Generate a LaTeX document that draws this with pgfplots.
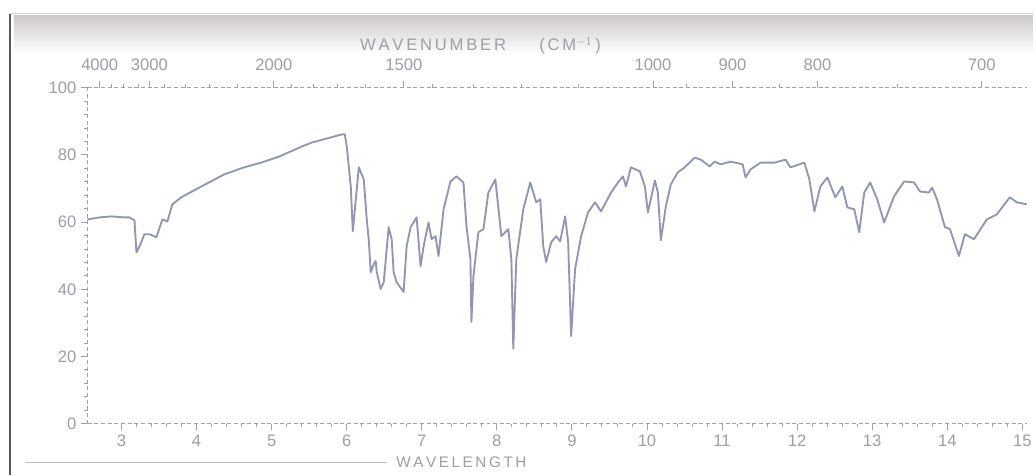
\documentclass[border=0pt]{standalone}
\usepackage{fontspec}
\setmainfont{Liberation Sans}
\usepackage{pgfplots}
\pgfplotsset{compat=1.18}
\definecolor{curve}{HTML}{9296B2}
\definecolor{txt}{HTML}{9E9EA4}
\definecolor{axl}{HTML}{A0A0A6}
\begin{document}
\begin{tikzpicture}
% page frame (px -> 0.75pt, y down from top)
\begin{scope}[x=0.75pt,y=-0.75pt,shift={(0,357pt)}]
\path[fill=white] (0,0) rectangle (1036,476);
\shade[top color=gray!45!purple!10!gray!40,bottom color=white] (14,16) rectangle (1036,54);
\draw[gray!35,line width=0.6pt] (10,13) -- (1036,13);
\draw[black!65,line width=2.2pt] (10,14) -- (10,476);
\draw[gray!50,line width=0.8pt] (25,464) -- (388,464);
\node[txt,font=\fontsize{12.5}{14}\selectfont,anchor=base] at (482,51) {W\,A\,V\,E\,N\,U\,M\,B\,E\,R\qquad(\,C\,M$^{-1}$\,)};
\node[txt,font=\fontsize{11.5}{13}\selectfont,anchor=base west] at (393,469) {W\,A\,V\,E\,L\,E\,N\,G\,T\,H};
\end{scope}
\begin{axis}[at={(66pt,38.25pt)},anchor=south west,scale only axis,
  width=706.5pt,height=252.75pt,
  xmin=2.55,xmax=15.06,ymin=0,ymax=100,
  axis x line*=bottom,axis y line*=left,
  axis line style={-,axl,line width=0.8pt,densely dashed},
  xtick={3,4,...,15},ytick={0,20,...,100},
  minor x tick num=4,minor y tick num=4,
  tick style={axl,line width=0.7pt},
  major tick length=5pt,minor tick length=2.5pt,
  tick align=outside,
  /pgf/number format/assume math mode=true,
  ticklabel style={txt,font=\fontsize{12.5}{14}\selectfont},
  clip=false]
\addplot[curve,line width=1.4pt,line join=round] coordinates {
(2.548,60.8)(2.708,61.4)(2.867,61.7)(3.040,61.4)(3.106,61.4)(3.173,60.5)
(3.199,51.0)(3.252,53.4)(3.305,56.4)(3.372,56.4)(3.465,55.5)(3.544,60.8)
(3.611,60.2)(3.677,65.3)(3.797,67.4)(4.062,70.6)(4.368,74.2)(4.633,76.3)
(4.859,77.7)(5.098,79.5)(5.404,82.5)(5.537,83.7)(5.935,86.1)(5.975,86.1)
(6.001,82.5)(6.054,70.6)(6.081,57.3)(6.121,66.8)(6.161,76.3)(6.227,72.7)
(6.267,60.8)(6.293,54.9)(6.320,45.1)(6.360,47.5)(6.386,48.4)(6.400,45.1)
(6.453,40.1)(6.493,42.1)(6.559,58.5)(6.599,54.9)(6.625,45.1)(6.665,42.1)
(6.758,39.2)(6.798,52.8)(6.851,58.5)(6.931,61.4)(6.984,46.9)(7.024,52.8)
(7.090,59.9)(7.130,54.9)(7.183,55.8)(7.223,49.9)(7.290,63.8)(7.382,72.1)
(7.462,73.6)(7.555,71.8)(7.595,58.8)(7.648,49.0)(7.661,30.3)(7.688,43.9)
(7.754,57.0)(7.821,57.9)(7.887,68.8)(7.980,72.7)(8.060,55.8)(8.153,57.9)
(8.193,49.0)(8.219,22.3)(8.259,49.0)(8.352,63.8)(8.445,71.8)(8.525,65.9)
(8.578,66.8)(8.618,52.8)(8.657,48.1)(8.724,54.0)(8.790,55.8)(8.843,54.3)
(8.910,61.7)(8.950,54.0)(8.989,26.1)(9.042,46.0)(9.122,55.8)(9.215,62.9)
(9.308,65.9)(9.388,63.2)(9.521,68.8)(9.614,71.8)(9.680,73.6)(9.720,70.6)
(9.786,76.3)(9.906,75.1)(9.972,70.6)(10.012,62.9)(10.105,72.4)(10.145,68.8)
(10.185,54.6)(10.251,64.7)(10.317,71.2)(10.410,74.8)(10.503,76.3)(10.636,79.2)
(10.716,78.6)(10.835,76.6)(10.902,78.0)(10.981,77.2)(11.114,78.0)(11.274,77.2)
(11.313,73.3)(11.380,75.7)(11.513,77.7)(11.699,77.7)(11.845,78.6)(11.911,76.3)
(12.097,77.7)(12.163,72.7)(12.230,63.2)(12.309,70.6)(12.402,73.3)(12.509,67.4)
(12.602,70.6)(12.668,64.4)(12.761,63.8)(12.827,57.0)(12.894,68.8)(12.973,71.8)
(13.066,66.8)(13.159,59.9)(13.292,67.7)(13.425,72.1)(13.558,71.8)(13.637,69.1)
(13.757,68.8)(13.797,70.3)(13.863,66.8)(13.969,58.5)(14.036,57.9)(14.155,49.9)
(14.235,56.4)(14.355,54.9)(14.527,60.8)(14.660,62.3)(14.833,67.4)(14.926,65.9)
(15.058,65.3)};
\end{axis}
\begin{axis}[at={(66pt,38.25pt)},anchor=south west,scale only axis,
  width=706.5pt,height=252.75pt,
  xmin=2.55,xmax=15.06,ymin=0,ymax=100,
  axis x line*=top,hide y axis,
  axis line style={-,axl,line width=0.8pt,densely dashed},
  xtick={2.71,3.37,5.03,6.76,10.08,11.14,12.27,14.46},
  xticklabels={4000,3000,2000,1500,1000,900,800,700},
  minor xtick={2.86,3.03,3.23,3.57,3.85,4.17,4.55,5.26,5.56,5.88,6.25,7.14,7.69,8.33,9.09,10.53,11.76,13.33},
  tick style={axl,line width=0.7pt},
  major tick length=5pt,minor tick length=2.5pt,
  tick align=outside,
  xticklabel style={txt,font=\fontsize{12.5}{14}\selectfont,yshift=4pt}]
\addplot[draw=none] coordinates {(3,50)};
\end{axis}
\end{tikzpicture}
\end{document}
